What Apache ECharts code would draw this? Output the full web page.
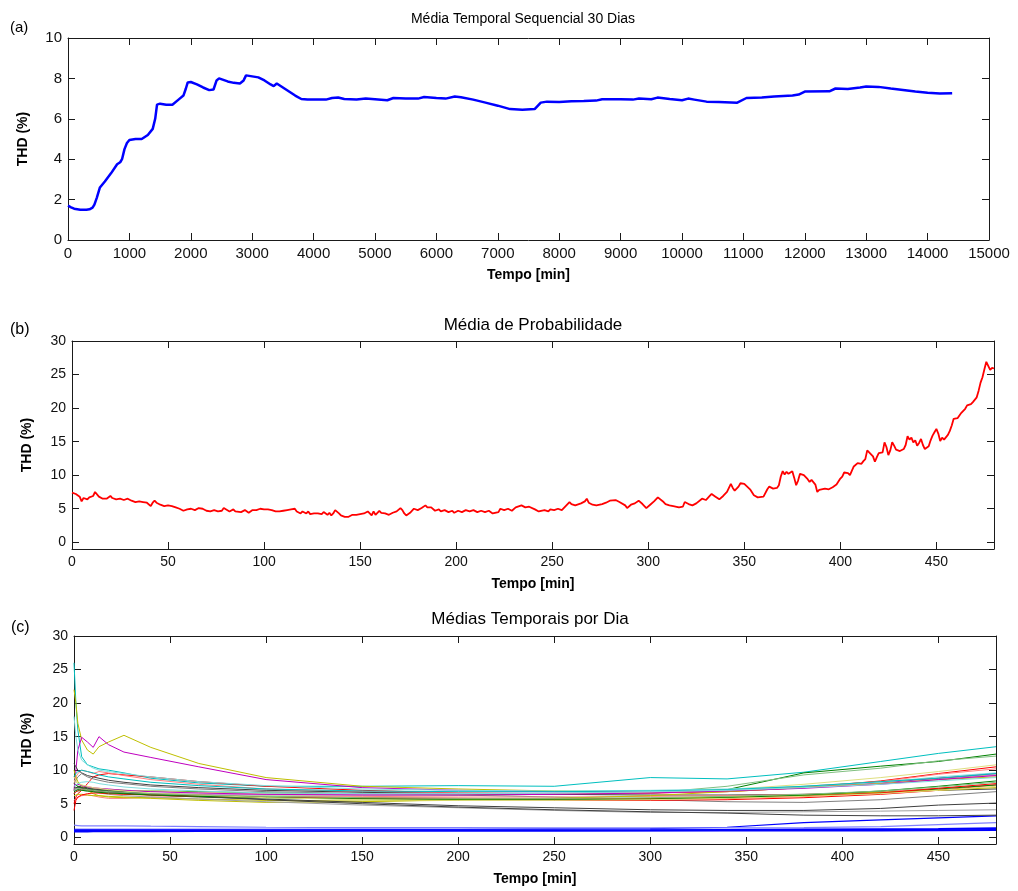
<!DOCTYPE html>
<html>
<head>
<meta charset="utf-8">
<script src="https://cdn.jsdelivr.net/npm/echarts@6/dist/echarts.min.js"></script>
<style>html,body{margin:0;padding:0;background:#fff}#c{width:1018px;height:891px}</style>
</head>
<body>
<div id="c"></div>
<script>
// ---------- Panel (a): Média Temporal Sequencial 30 Dias ----------
const A_T = [0,50,100,200,300,350,400,430,470,520,600,700,800,850,880,920,960,1000,1100,1200,1300,1380,1420,1450,1500,1600,1700,1800,1880,1920,1950,2000,2100,2200,2300,2370,2420,2460,2600,2700,2800,2860,2900,3000,3100,3200,3300,3350,3400,3500,3600,3700,3800,3900,4000,4200,4300,4400,4500,4700,4850,5000,5200,5300,5500,5700,5800,6000,6150,6300,6400,6600,6800,7000,7200,7400,7600,7700,7800,8000,8200,8400,8600,8700,9000,9200,9300,9500,9600,9800,10000,10100,10200,10400,10600,10900,11050,11300,11500,11800,11900,12000,12400,12500,12700,12900,13000,13200,13400,13600,13800,14000,14200,14400];
const A_V = [1.7,1.62,1.55,1.5,1.5,1.52,1.6,1.75,2.1,2.6,2.9,3.3,3.75,3.85,4.0,4.5,4.8,4.95,5.0,5.0,5.2,5.5,6.0,6.7,6.75,6.7,6.7,6.95,7.15,7.5,7.8,7.82,7.7,7.55,7.42,7.45,7.9,8.0,7.85,7.78,7.75,7.9,8.15,8.1,8.05,7.9,7.7,7.62,7.75,7.55,7.35,7.15,6.98,6.95,6.95,6.95,7.03,7.05,6.98,6.95,7.0,6.97,6.92,7.03,7.0,7.0,7.08,7.03,7.0,7.1,7.07,6.95,6.8,6.65,6.48,6.45,6.48,6.8,6.85,6.83,6.87,6.88,6.9,6.97,6.97,6.95,7.0,6.97,7.05,6.98,6.92,7.0,6.95,6.85,6.83,6.8,7.03,7.05,7.1,7.15,7.2,7.35,7.36,7.5,7.48,7.55,7.6,7.58,7.5,7.43,7.35,7.29,7.25,7.27];

// ---------- Panel (b): Média de Probabilidade ----------
const B_T = [0,1,2,3,4,5,6,7,8,9,10,11,12,13,14,15,16,17,18,19,20,21,22,23,24,25,26,27,28,29,30,31,32,33,34,35,36,37,38,39,40,41,42,43,44,45,46,47,48,49,50,51,52,53,54,55,56,57,58,59,60,61,62,63,64,66,67,68,70,71,72,74,75,76,78,79,80,82,83,84,85,86,88,89,90,91,92,94,95,96,97,98,99,100,101,102,103,104,106,107,108,110,111,112,113,114,115,116,117,118,119,120,121,122,123,124,125,126,127,128,129,130,131,132,133,134,135,136,137,138,139,140,141,142,143,144,145,146,147,148,149,150,151,152,153,154,155,156,157,158,159,160,161,163,165,167,169,171,172,173,174,176,177,178,180,182,184,185,186,187,189,191,192,194,196,198,199,201,203,205,207,209,211,213,215,217,219,220,222,223,225,227,229,231,232,234,236,238,239,241,243,244,246,248,249,251,253,255,257,259,260,262,263,265,267,268,269,271,273,274,276,278,280,281,283,285,286,288,289,291,293,295,296,297,299,301,303,305,306,308,309,311,313,316,318,319,321,323,325,328,330,332,333,335,337,339,341,342,343,344,345,347,348,350,351,353,355,357,358,360,361,362,363,365,367,368,369,370,371,372,373,375,376,377,378,379,380,381,382,383,384,385,386,387,388,389,390,392,394,396,398,400,401,402,403,404,405,406,407,408,409,410,411,412,413,414,415,416,417,418,419,420,421,422,423,424,425,426,427,428,429,430,431,432,433,434,435,436,437,438,439,440,441,442,443,444,445,446,447,448,449,450,451,452,453,454,455,456,457,458,459,460,461,462,463,464,465,466,467,468,469,470,471,472,473,474,475,476,477,478,479,480];
const B_V = [7.4,7.3,7.2,7.3,6.8,6.1,6.6,6.8,6.4,6.7,6.5,6.9,7.5,7.3,6.8,6.6,6.5,6.6,6.5,6.7,6.9,6.6,6.7,6.4,6.6,6.5,6.7,6.3,6.2,6.5,6.3,6.2,6.4,6.0,6.2,6.1,6.2,6.0,6.1,5.9,5.7,5.4,5.9,6.2,5.9,5.8,5.6,5.7,5.4,5.3,5.5,5.6,5.4,5.3,5.2,5.3,5.0,4.9,4.7,4.8,4.9,4.7,5.0,4.9,4.8,5.1,5.3,5.0,4.7,4.8,4.6,4.8,4.9,4.6,4.7,5.1,4.9,4.6,4.7,4.9,4.6,4.8,4.5,4.6,4.8,4.7,4.4,4.8,5.0,4.8,4.7,5.0,4.8,4.9,4.7,4.9,5.1,4.8,4.6,4.7,4.6,4.7,4.6,4.8,4.7,4.9,4.7,5.0,4.6,4.5,4.3,4.6,4.5,4.3,4.6,4.2,4.4,4.3,4.5,4.3,4.4,4.2,4.5,4.3,4.1,4.4,4.0,4.3,4.8,4.6,4.3,4.0,3.9,3.8,4.0,3.8,3.9,4.1,4.0,4.1,4.0,4.2,4.1,4.3,4.1,4.6,4.3,4.0,4.6,4.1,4.3,4.7,4.4,4.3,4.1,4.4,4.6,5.1,4.8,4.3,4.0,4.4,4.6,5.0,4.8,5.1,5.5,5.2,5.0,5.2,4.7,4.9,4.6,4.8,4.5,4.7,4.4,4.7,4.5,4.8,4.6,4.8,4.5,4.7,4.5,4.7,4.3,4.1,4.5,5.0,4.8,5.0,4.7,5.2,5.0,5.5,5.2,5.3,5.1,4.9,4.6,4.5,4.8,4.6,4.9,4.8,5.0,4.8,5.4,6.0,5.7,5.5,5.3,5.8,6.1,6.5,5.9,5.6,5.5,5.3,5.7,5.9,6.2,6.1,6.3,6.0,6.2,5.5,5.1,5.6,5.8,6.2,6.3,5.7,5.1,5.6,6.1,6.7,6.5,6.0,5.7,5.5,5.4,5.2,5.3,6.0,5.7,5.5,5.8,6.5,6.3,6.9,7.2,6.8,6.4,6.9,7.5,7.3,8.7,8.1,7.7,8.3,8.8,8.7,8.5,7.9,7.0,6.7,6.6,6.8,7.0,7.9,8.3,8.0,8.1,8.5,9.8,10.6,10.1,10.5,10.2,10.6,9.6,8.5,9.2,10.2,10.4,10.0,9.9,9.4,9.0,9.3,9.1,8.6,7.5,7.8,7.6,8.0,7.9,8.2,8.6,9.5,9.8,10.4,10.6,10.3,10.0,9.9,11.3,11.1,11.8,12.0,11.7,12.1,12.4,13.7,13.4,13.3,12.8,12.0,12.7,13.3,13.5,13.4,14.9,14.2,13.0,13.7,14.9,14.4,13.8,13.7,13.6,13.6,13.9,14.5,15.8,15.3,15.6,14.9,15.2,14.4,14.8,15.4,14.5,13.9,13.8,14.3,15.2,15.9,16.4,16.9,16.2,15.1,15.6,15.3,15.5,16.0,16.6,17.4,18.4,18.2,18.5,18.9,19.3,19.4,19.9,20.4,20.2,20.6,20.9,21.0,21.6,22.6,23.8,24.6,25.8,26.9,26.3,25.7,26.0,25.9];

// ---------- Panel (c): Médias Temporais por Dia ----------
const C_T = [0,1,2,4,7,10,13,18,26,40,65,100,150,200,250,300,340,380,420,450,480];
const D01 = [1.0,1.0,1.0,1.0,1.0,1.0,1.0,1.0,1.0,1.0,1.0,1.0,1.0,1.0,1.0,1.0,1.0,1.0,1.0,1.05,1.1];
const D02 = [1.2,1.2,1.2,1.2,1.2,1.2,1.2,1.2,1.2,1.2,1.2,1.2,1.2,1.2,1.25,1.3,1.5,2.2,2.6,2.9,3.2];
const D03 = [1.8,1.8,1.75,1.7,1.7,1.7,1.7,1.7,1.7,1.65,1.6,1.5,1.45,1.45,1.4,1.4,1.4,1.45,1.6,1.9,2.2];
const D04 = [0.85,0.85,0.85,0.85,0.85,0.9,0.9,0.9,0.9,0.9,0.95,0.95,1.0,1.0,1.0,1.05,1.1,1.15,1.2,1.25,1.35];
const D05 = [26,20,16,12,10.8,10.5,10.2,10,9.6,8.8,8.1,7.6,7.6,7.7,7.6,8.9,8.7,9.7,11.3,12.5,13.5];
const D06 = [22,20,17,14.5,13,12.4,13.5,14.2,15.2,13.4,11,8.9,7.6,7.2,6.9,6.8,7.0,7.5,8.3,8.8,9.3];
const D07 = [7,10,13,14.9,14.2,13.4,15,13.8,12.7,11.9,10.5,8.6,7.4,7.0,6.8,6.8,7.0,7.4,8.1,8.8,9.5];
const D08 = [7,7.3,7.6,7.5,7.4,7.3,7.2,7.1,7.0,6.9,6.8,6.6,6.5,6.4,6.5,6.6,7.1,9.6,10.6,11.3,12.4];
const D09 = [6.5,6.8,7,7,6.9,6.8,6.8,6.7,6.6,6.5,6.4,6.3,6.3,6.3,6.4,6.6,7.6,9.3,10.3,11.4,12.1];
const D10 = [5,6,6.5,7,8,9,9.3,9.5,9.3,9,8.3,7.6,7.0,6.6,6.5,6.6,6.8,7.4,8.4,9.5,10.5];
const D11 = [8,9,9.5,10,9.8,9.5,9.8,9.6,9.2,8.6,7.9,7.2,6.8,6.6,6.5,6.6,6.9,7.6,8.3,9.4,10.2];
const D12 = [9,8.5,8,7.8,7.5,7.3,7.2,7.1,7.0,6.9,6.7,6.5,6.4,6.4,6.5,6.7,7.1,7.9,8.9,9.8,10.8];
const D13 = [11,10.5,10,9.6,9.2,9.0,8.8,8.5,8.2,7.8,7.4,7.0,6.7,6.5,6.4,6.3,6.3,6.4,6.7,7.0,7.2];
const D14 = [8,8.5,9,9.5,9,8.7,8.5,8.2,8.0,7.6,7.2,6.8,6.5,6.3,6.0,5.6,5.3,5.2,5.6,6.2,6.8];
const D15 = [18,15,13,11.5,10.8,10.3,10,9.8,9.5,9.0,8.3,7.7,7.2,7.0,6.9,7.0,7.2,7.6,8.2,9.0,9.6];
const D16 = [7,7.2,7.3,7.2,7.0,6.9,6.8,6.7,6.6,6.5,6.4,6.4,6.4,6.5,6.6,6.8,7.0,7.4,8.0,8.6,9.3];
const D17 = [6.5,6.8,7.0,7.2,7.1,7.0,6.9,6.8,6.7,6.5,6.3,6.0,5.8,5.6,5.5,5.5,5.6,5.9,6.4,7.0,7.8];
const D18 = [5.5,5.8,6.0,6.2,6.3,6.2,6.0,5.8,5.8,6.0,6.1,6.1,6.1,6.0,6.0,6.1,6.2,6.4,6.8,7.3,7.8];
const D19 = [8,7.8,7.6,7.4,7.2,7.1,7.0,6.9,6.7,6.5,6.2,6.0,5.8,5.7,5.7,5.8,6.0,6.2,6.6,7.2,7.8];
const D20 = [6.2,6.3,6.4,6.4,6.3,6.2,6.2,6.1,6.0,5.9,5.7,5.5,5.4,5.5,5.6,5.8,6.0,6.3,6.7,7.0,7.4];
const D21 = [10,9,8.3,7.6,7.0,6.5,6.2,6.0,5.9,5.8,5.5,5.2,5.3,5.6,5.8,6.2,6.8,7.4,8.0,8.6,9.0];
const D22 = [9,9.5,9.8,10,9.8,9.6,9.3,9.0,8.7,8.2,7.7,7.2,6.9,6.8,6.8,6.9,7.1,7.6,8.3,8.8,9.5];
const D23 = [7.5,7.5,7.4,7.3,7.1,7.0,6.9,6.8,6.6,6.3,6.0,5.7,5.2,4.7,4.4,4.1,4.0,4.0,4.3,4.8,5.1];
const D24 = [7,7.1,7.1,7.0,6.9,6.8,6.6,6.4,6.2,6.0,5.7,5.3,4.8,4.4,4.0,3.7,3.7,3.8,3.9,4.0,4.1];
const D25 = [7.2,7.4,7.5,7.4,7.3,7.2,7.1,7.0,6.8,6.5,6.1,5.6,5.0,4.5,4.1,3.8,3.6,3.3,3.2,3.2,3.3];
const D26 = [4,5.5,6,6.3,6.5,6.6,6.6,6.5,6.4,6.3,6.1,6.0,5.9,5.8,5.7,5.7,5.8,6.1,6.6,7.3,8.0];
const D27 = [6.8,7.0,7.1,7.0,6.9,6.8,6.7,6.6,6.5,6.3,6.1,5.9,5.7,5.6,5.6,5.7,5.9,6.3,6.9,7.6,8.4];
const D28 = [7.8,8.0,7.9,7.7,7.5,7.4,7.3,7.2,7.0,6.8,6.6,6.4,6.3,6.3,6.4,6.6,6.9,7.3,7.9,8.6,9.2];
const D29 = [8.5,8.2,8.0,7.8,7.6,7.4,7.3,7.1,6.9,6.6,6.3,5.9,5.6,5.5,5.5,5.6,5.8,6.1,6.5,7.0,7.6];
const D30 = [7.2,7.3,7.3,7.2,7.1,7.0,6.9,6.8,6.7,6.5,6.3,6.1,5.9,5.8,5.8,5.9,6.1,6.4,6.9,7.5,8.2];
const D31 = [7.6,7.8,8.0,8.2,8.3,8.2,8.0,7.8,7.5,7.2,6.9,6.6,6.5,6.5,6.6,6.8,7.0,7.4,7.9,8.4,8.9];
const C_DAYS = [D01,D02,D03,D04,D05,D06,D07,D08,D09,D10,D11,D12,D13,D14,D15,D16,D17,D18,D19,D20,D21,D22,D23,D24,D25,D26,D27,D28,D29,D30,D31];
const C_COLORS = ['#0000ff','#0000ff','#8080ff','#0000ff','#00bfbf','#bfbf00','#bf00bf','#008000','#80bf80','#ff0000','#ff8080','#dfdf80','#404040','#808080','#80dfdf','#df80df','#ff0000','#ff8080','#008000','#bfbf00','#bfbf00','#00bfbf','#404040','#a0a0a0','#404040','#ff0000','#008000','#bf00bf','#dfdf80','#80bf80','#80dfdf'];
const C_WIDTHS = [2,1.2,1.2,2,1,1,1,1,1,1,1,1,1,1,1,1,1,1,1,1,1,1,1,1,1,1,1,1,1,1,1];

// ---------- Tick labels ----------
const A_XTICKS = [0,1000,2000,3000,4000,5000,6000,7000,8000,9000,10000,11000,12000,13000,14000,15000];
const A_YTICKS = [0,2,4,6,8,10];
const BC_XTICKS = [0,50,100,150,200,250,300,350,400,450];
const BC_YTICKS = [0,5,10,15,20,25,30];

const FONT = "'Liberation Sans', Arial, sans-serif";
const AX = '#1a1a1a';
const grids = [
  {left: 68, top: 38, width: 921, height: 202},
  {left: 72, top: 341, width: 922, height: 208},
  {left: 74, top: 636, width: 922, height: 208}
];

function xAx(gi, pos, min, max, ticks, fs, showLbl, name) {
  return {
    type: 'value', gridIndex: gi, position: pos, min: min, max: max,
    axisLine: {show: true, onZero: false, lineStyle: {color: AX, width: 1}},
    axisTick: {show: true, inside: true, length: 7, customValues: ticks, lineStyle: {color: AX}},
    axisLabel: {show: showLbl, customValues: ticks, margin: 6, fontFamily: FONT, fontSize: fs, color: '#111', formatter: v => String(v)},
    splitLine: {show: false},
    name: showLbl ? name : '', nameLocation: 'middle', nameGap: 28,
    nameTextStyle: {fontFamily: FONT, fontSize: 14, fontWeight: 'bold', color: '#000'}
  };
}
function yAx(gi, pos, min, max, ticks, fs, showLbl, gap) {
  return {
    type: 'value', gridIndex: gi, position: pos, min: min, max: max,
    axisLine: {show: true, onZero: false, lineStyle: {color: AX, width: 1}},
    axisTick: {show: true, inside: true, length: 7, customValues: ticks, lineStyle: {color: AX}},
    axisLabel: {show: showLbl, customValues: ticks, margin: 6, fontFamily: FONT, fontSize: fs, color: '#111', formatter: v => String(v)},
    splitLine: {show: false},
    name: showLbl ? 'THD (%)' : '', nameLocation: 'middle', nameGap: gap, nameRotate: 90,
    nameTextStyle: {fontFamily: FONT, fontSize: 14, fontWeight: 'bold', color: '#000'}
  };
}

const series = [];
series.push({type: 'line', xAxisIndex: 0, yAxisIndex: 0, symbol: 'none', data: A_T.map((t, i) => [t, A_V[i]]), lineStyle: {color: '#0000ff', width: 2.5}, itemStyle: {color: '#0000ff'}});
series.push({type: 'line', xAxisIndex: 2, yAxisIndex: 2, symbol: 'none', data: B_T.map((t, i) => [t, B_V[i]]), lineStyle: {color: '#ff0000', width: 1.8}, itemStyle: {color: '#ff0000'}});
C_DAYS.forEach((d, k) => {
  series.push({type: 'line', xAxisIndex: 4, yAxisIndex: 4, symbol: 'none', data: C_T.map((t, i) => [t, d[i]]), lineStyle: {color: C_COLORS[k], width: C_WIDTHS[k]}, itemStyle: {color: C_COLORS[k]}});
});

const texts = [
  {t: '(a)', x: 10, y: 28, fs: 15, align: 'left'},
  {t: '(b)', x: 10, y: 330, fs: 16, align: 'left'},
  {t: '(c)', x: 11, y: 628, fs: 16, align: 'left'},
  {t: 'Média Temporal Sequencial 30 Dias', x: 523, y: 19, fs: 14, align: 'center'},
  {t: 'Média de Probabilidade', x: 533, y: 325, fs: 17, align: 'center'},
  {t: 'Médias Temporais por Dia', x: 530, y: 619, fs: 17, align: 'center'}
];

const option = {
  animation: false,
  backgroundColor: '#fff',
  grid: grids,
  xAxis: [
    xAx(0, 'bottom', 0, 15000, A_XTICKS, 15, true, 'Tempo [min]'),
    xAx(0, 'top', 0, 15000, A_XTICKS, 15, false, ''),
    xAx(1, 'bottom', 0, 480, BC_XTICKS, 14, true, 'Tempo [min]'),
    xAx(1, 'top', 0, 480, BC_XTICKS, 14, false, ''),
    xAx(2, 'bottom', 0, 480, BC_XTICKS, 14, true, 'Tempo [min]'),
    xAx(2, 'top', 0, 480, BC_XTICKS, 14, false, '')
  ],
  yAxis: [
    yAx(0, 'left', 0, 10, A_YTICKS, 15, true, 38),
    yAx(0, 'right', 0, 10, A_YTICKS, 15, false, 0),
    yAx(1, 'left', -1, 30, BC_YTICKS, 14, true, 38),
    yAx(1, 'right', -1, 30, BC_YTICKS, 14, false, 0),
    yAx(2, 'left', -1, 30, BC_YTICKS, 14, true, 40),
    yAx(2, 'right', -1, 30, BC_YTICKS, 14, false, 0)
  ],
  graphic: texts.map(o => ({
    type: 'text', x: o.x, y: o.y,
    style: {text: o.t, fontFamily: FONT, fontSize: o.fs, fill: '#000', textAlign: o.align, textVerticalAlign: 'middle'}
  })),
  series: series
};

const chart = echarts.init(document.getElementById('c'), null, {renderer: 'canvas'});
chart.setOption(option);
</script>
</body>
</html>
